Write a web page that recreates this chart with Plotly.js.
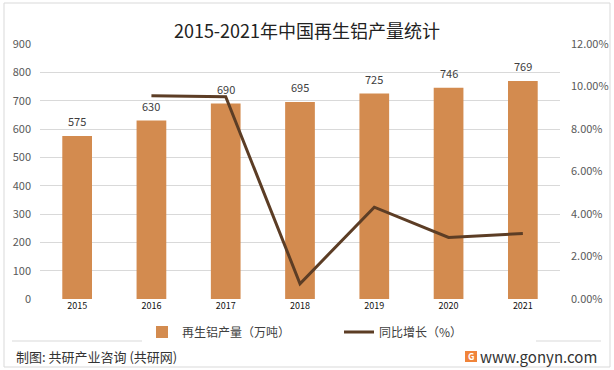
<!DOCTYPE html>
<html>
<head>
<meta charset="utf-8">
<script src="https://cdn.plot.ly/plotly-3.0.1.min.js"></script>
<style>
html,body{margin:0;padding:0;background:#fff;}
#chart{width:614px;height:370px;}
</style>
</head>
<body>
<div id="chart"></div>
<script>
const years = ['2015','2016','2017','2018','2019','2020','2021'];
const output = [575, 630, 690, 695, 725, 746, 769];
const growthYears = ['2016','2017','2018','2019','2020','2021'];
const growth = [0.0957, 0.0952, 0.0072, 0.0432, 0.0290, 0.0308];
const leftTicks = [0,100,200,300,400,500,600,700,800,900];
const rightTicks = [0,0.02,0.04,0.06,0.08,0.10,0.12];

const FONT = '"Noto Sans CJK SC", "Noto Sans", sans-serif';
const L = 40, R = 54, T = 44, B = 71, W = 614, H = 370;
const pw = W - L - R, ph = H - T - B;
const px = x => (x - L) / pw;
const py = y => (H - B - y) / ph;

const traces = [
  {
    type: 'bar', x: years, y: output, name: '再生铝产量（万吨）',
    marker: {color: '#D38B4F'},
    hoverinfo: 'x+y'
  },
  {
    type: 'scatter', mode: 'lines', x: growthYears, y: growth, yaxis: 'y2',
    name: '同比增长（%）', line: {color: '#5C3D25', width: 3}
  }
];

// value labels: x given as category index on the category axis
const labelAnnotations = years.map((yr, i) => ({
  x: i, y: output[i], xref: 'x', yref: 'y', text: String(output[i]),
  showarrow: false, yanchor: 'bottom', yshift: 5,
  font: {size: 11, color: '#404040', family: FONT}
}));

const layout = {
  width: W, height: H,
  margin: {l: L, r: R, t: T, b: B, pad: 0},
  paper_bgcolor: '#fff', plot_bgcolor: '#fff',
  font: {family: FONT, color: '#595959'},
  title: {text: '2015-2021年中国再生铝产量统计', font: {size: 18, color: '#222', family: FONT},
          x: 0.5, xanchor: 'center', y: 1 - 32 / H, yanchor: 'middle'},
  bargap: 0.6,
  showlegend: true,
  legend: {orientation: 'h', x: px(142), xanchor: 'left', y: py(332), yanchor: 'middle',
           font: {size: 12, color: '#404040', family: FONT}, itemwidth: 30, entrywidth: 152,
           entrywidthmode: 'pixels', traceorder: 'normal'},
  xaxis: {type: 'category', categoryarray: years, categoryorder: 'array',
          range: [-0.5, 6.5], autorange: false,
          showgrid: false, zeroline: false, showline: false, ticks: '',
          tickfont: {size: 9, color: '#111', family: FONT}},
  yaxis: {range: [0, 900], tickvals: leftTicks, showgrid: true, gridcolor: '#d9d9d9', gridwidth: 1,
          zeroline: false, showline: false, ticks: '', ticklabelstandoff: 8,
          tickfont: {size: 11, color: '#595959', family: FONT}},
  yaxis2: {overlaying: 'y', side: 'right', range: [0, 0.12], tickvals: rightTicks, tickformat: '.2%',
           showgrid: false, zeroline: false, showline: false, ticks: '', ticklabelstandoff: 10,
           tickfont: {size: 11, color: '#595959', family: FONT}},
  shapes: [
    {type: 'rect', xref: 'paper', yref: 'paper', x0: px(4), x1: px(610), y0: py(367), y1: py(3),
     line: {color: '#d9d9d9', width: 1}, fillcolor: 'rgba(0,0,0,0)', layer: 'below'},
    {type: 'line', xref: 'paper', yref: 'paper', x0: px(12), x1: px(601), y0: py(341), y1: py(341),
     line: {color: '#d9d9d9', width: 1}},
    {type: 'rect', xref: 'paper', yref: 'paper', x0: px(465), x1: px(477), y0: py(362), y1: py(351),
     line: {width: 0}, fillcolor: '#F0843A'}
  ],
  annotations: labelAnnotations.concat([
    {xref: 'paper', yref: 'paper', x: px(14), y: py(356), xanchor: 'left', yanchor: 'middle',
     text: '制图: 共研产业咨询 (共研网)', showarrow: false, font: {size: 13, color: '#333', family: FONT}},
    {xref: 'paper', yref: 'paper', x: px(599), y: py(356), xanchor: 'right', yanchor: 'middle',
     text: 'www.gonyn.com', showarrow: false, font: {size: 15, color: '#333', family: FONT}},
    {xref: 'paper', yref: 'paper', x: px(471), y: py(356.5), xanchor: 'center', yanchor: 'middle',
     text: '<b>G</b>', showarrow: false, font: {size: 9, color: '#fff', family: FONT}}
  ])
};

Plotly.newPlot('chart', traces, layout, {displayModeBar: false, staticPlot: true});
</script>
</body>
</html>
